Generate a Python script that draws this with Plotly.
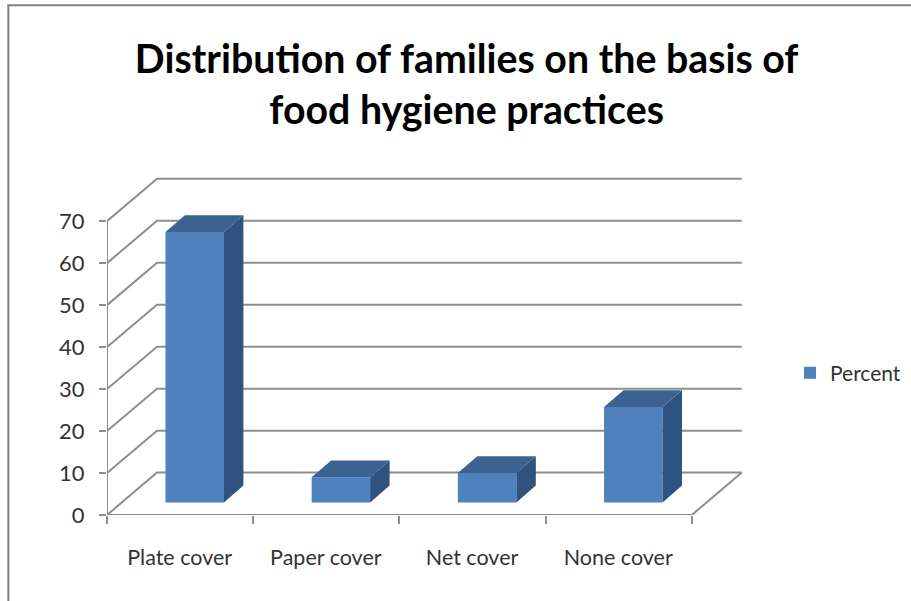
import plotly.graph_objects as go

categories = ["Plate cover", "Paper cover", "Net cover", "None cover"]
percent_values = [64.4, 6, 7, 22.7]
value_ticks = [0, 10, 20, 30, 40, 50, 60, 70]

FRONT = "#4F81BD"
SIDE = "#2F5280"
TOP = "#3C6291"
GRID = "#8E8E8E"
TEXT = "#333333"
FONT = "Lato"

# Oblique projection of the chart box, in axis units
WALL_DX, WALL_DY = 0.342, 10.1
BAR_LEFT, BAR_WIDTH = 0.4, 0.4
BAR_BASE = 3.0
BAR_DX, BAR_DY = 0.133, 4.0

# Plot box geometry in pixels; the axis domain stops short of the legend column
W, H = 911, 601
ML, MR, MT, MB = 106.7, 5, 174.8, 86
X_UNIT = 146.25
X_MAX = 4.36
PAPER_W = W - ML - MR
PLOT_H = H - MT - MB
X_DOMAIN_END = X_MAX * X_UNIT / PAPER_W


def page_x(px):
    return (px - ML) / PAPER_W


def page_y(py):
    return (H - MB - py) / PLOT_H


fig = go.Figure()

# Back wall gridlines with their diagonals running down the side wall
shapes = []
for v in value_ticks:
    path = (f"M 0 {v} L {WALL_DX} {v + WALL_DY} "
            f"L {len(categories) + WALL_DX} {v + WALL_DY}")
    shapes.append(dict(type="path", path=path, xref="x", yref="y", layer="below",
                       line=dict(color=GRID, width=2)))

# Right edge of the floor
n = len(categories)
shapes.append(dict(type="path", path=f"M {n} 0 L {n + WALL_DX} {WALL_DY}",
                   xref="x", yref="y", layer="below", line=dict(color=GRID, width=2)))

# Page frame on the left and top
shapes.append(dict(type="path",
                   path=f"M {page_x(8)} {page_y(601)} L {page_x(8)} {page_y(5)} L {page_x(911)} {page_y(5)}",
                   xref="paper", yref="paper", layer="below",
                   line=dict(color="#808080", width=2)))

# Front faces of the columns
fig.add_trace(go.Bar(
    x=[i + BAR_LEFT + BAR_WIDTH / 2 for i in range(n)],
    y=percent_values,
    base=BAR_BASE,
    width=BAR_WIDTH,
    marker=dict(color=FRONT, line=dict(width=0)),
    name="Percent",
    showlegend=True,
    hoverinfo="skip",
))

# Side and top faces of the columns
for i, v in enumerate(percent_values):
    left = i + BAR_LEFT
    right = left + BAR_WIDTH
    top = BAR_BASE + v
    fig.add_trace(go.Scatter(
        x=[right, right + BAR_DX, right + BAR_DX, right, right],
        y=[BAR_BASE, BAR_BASE + BAR_DY, top + BAR_DY, top, BAR_BASE],
        mode="lines", fill="toself", fillcolor=SIDE,
        line=dict(width=0, color=SIDE), showlegend=False, hoverinfo="skip",
    ))
    fig.add_trace(go.Scatter(
        x=[left, left + BAR_DX, right + BAR_DX, right, left],
        y=[top, top + BAR_DY, top + BAR_DY, top, top],
        mode="lines", fill="toself", fillcolor=TOP,
        line=dict(width=0, color=TOP), showlegend=False, hoverinfo="skip",
    ))

# Front axis lines and the floor edges meeting them
fig.add_trace(go.Scatter(
    x=[0, 0], y=[value_ticks[0], value_ticks[-1]], mode="lines", cliponaxis=False,
    line=dict(color=GRID, width=2), showlegend=False, hoverinfo="skip",
))
fig.add_trace(go.Scatter(
    x=[0, n], y=[0, 0], mode="lines", cliponaxis=False,
    line=dict(color=GRID, width=2), showlegend=False, hoverinfo="skip",
))

fig.update_layout(
    width=W, height=H, autosize=False,
    margin=dict(l=ML, r=MR, t=MT, b=MB, pad=0),
    paper_bgcolor="white", plot_bgcolor="rgba(0,0,0,0)",
    shapes=shapes,
    font=dict(family=FONT, color=TEXT, size=21),
    title=dict(
        text="Distribution of families on the basis of<br>food hygiene practices",
        font=dict(family=FONT, size=39.3, color="#000000", weight="bold"),
        x=page_x(466.5), xanchor="center", xref="paper",
        y=1 - 73 / H, yanchor="top", yref="container",
    ),
    xaxis=dict(
        domain=[0, X_DOMAIN_END],
        range=[0, X_MAX],
        tickvals=[i + 0.497 for i in range(n)],
        ticktext=categories,
        ticks="", showgrid=False, zeroline=False, showline=False,
        ticklabelstandoff=27,
        tickfont=dict(family=FONT, size=21.5, color=TEXT),
        minor=dict(tick0=0, dtick=1, ticks="outside", ticklen=8, tickwidth=2,
                   tickcolor=GRID, showgrid=False),
    ),
    yaxis=dict(
        range=[0, 81],
        tickvals=value_ticks,
        ticks="outside", ticklen=7, tickwidth=2, tickcolor=GRID,
        showgrid=False, zeroline=False, showline=False,
        ticklabelstandoff=10,
        tickfont=dict(family=FONT, size=22, color=TEXT),
    ),
    legend=dict(
        x=1, y=page_y(373), xanchor="right", yanchor="middle",
        bgcolor="rgba(0,0,0,0)", font=dict(family=FONT, size=21, color=TEXT),
    ),
)

fig.write_html("out.html", config=dict(displayModeBar=False))
